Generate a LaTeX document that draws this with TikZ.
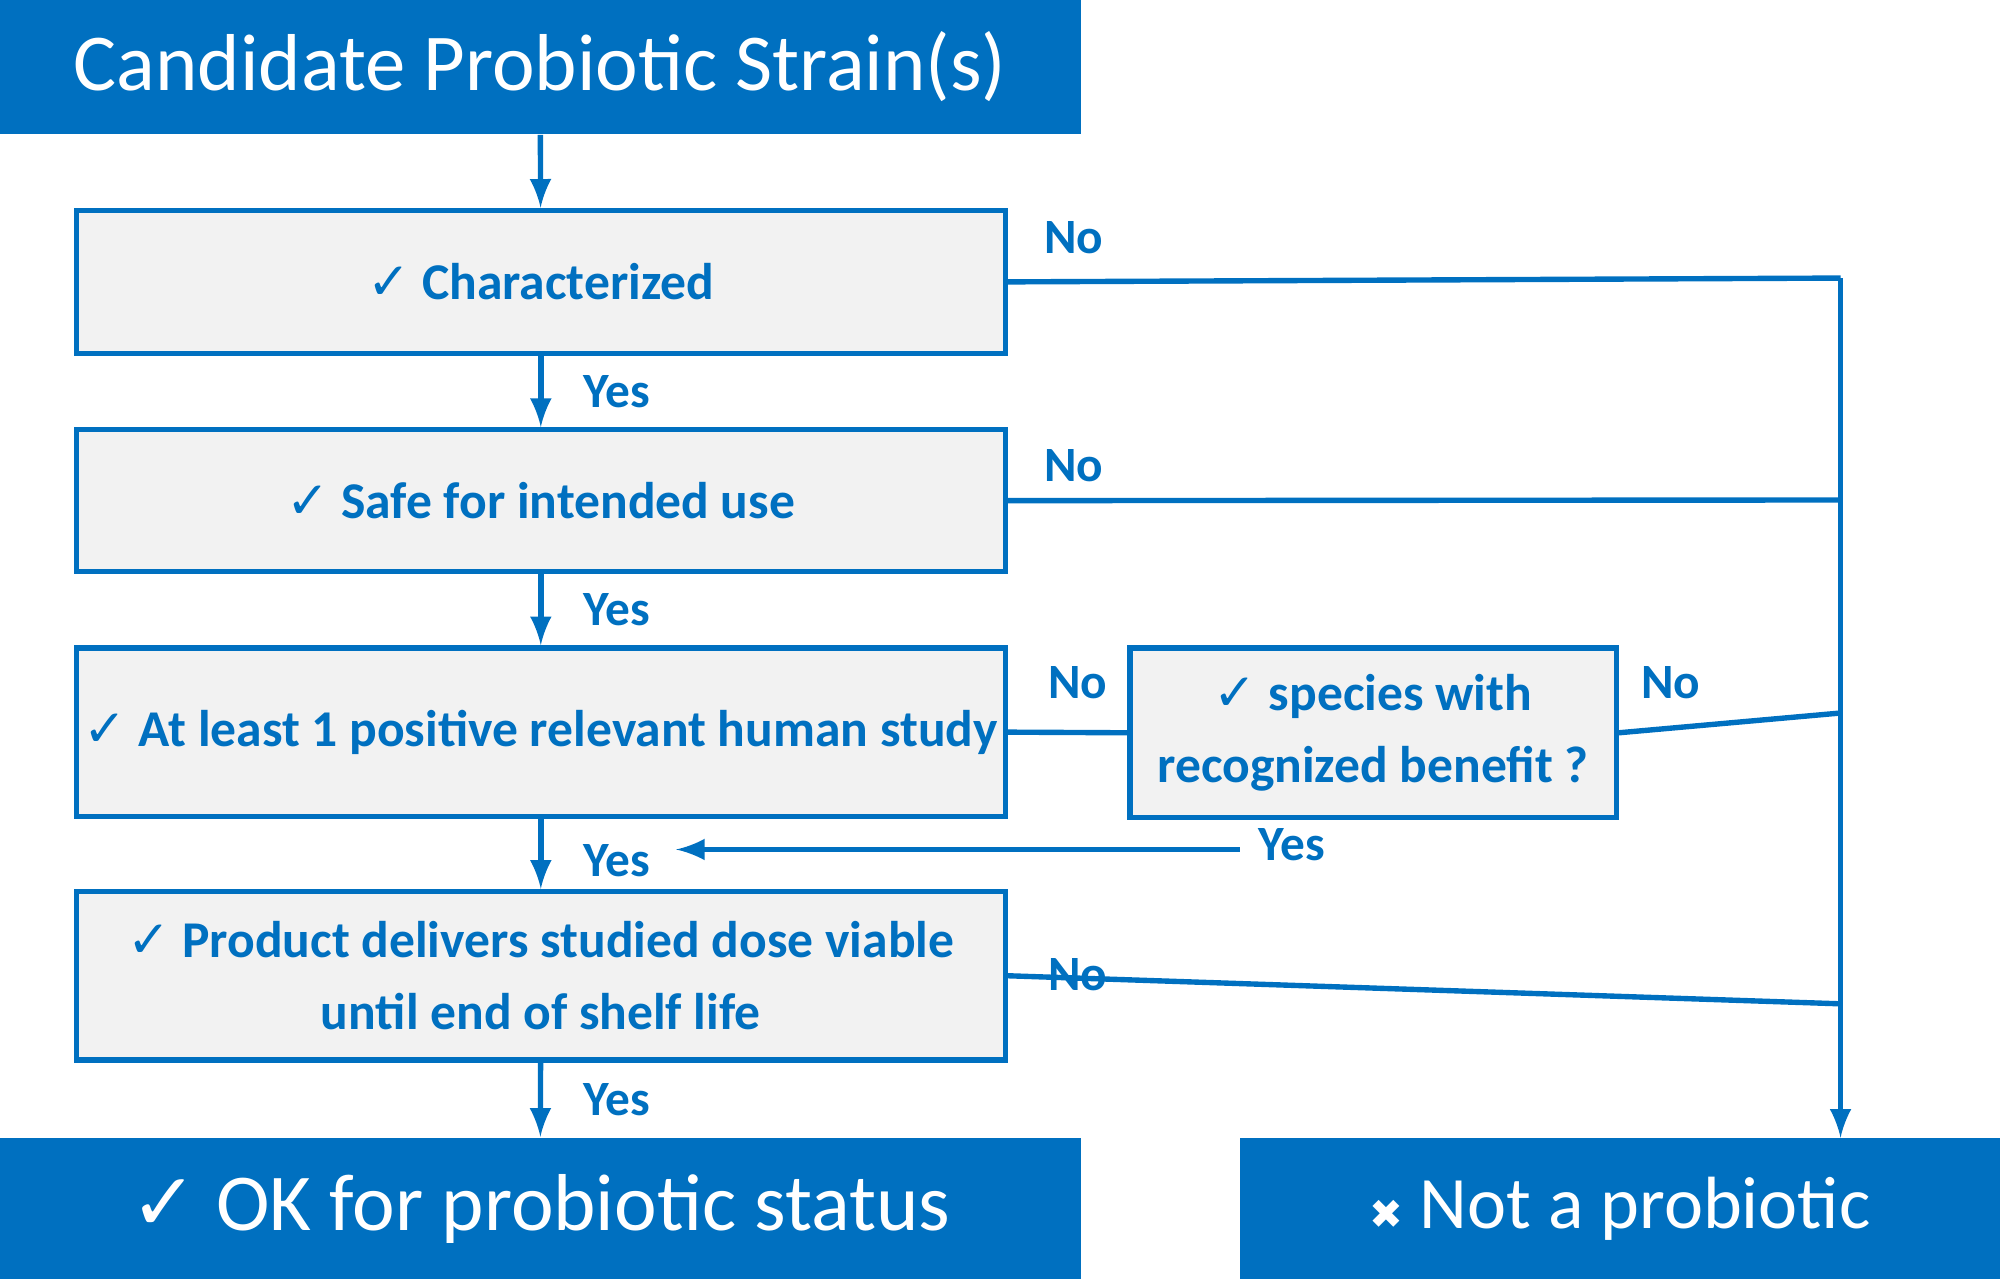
\documentclass[tikz,border=0pt]{standalone}
\usepackage{fontspec}
\setmainfont{Carlito}
\newfontfamily\symfont{DejaVu Sans}
\definecolor{msblue}{HTML}{0070C0}
\definecolor{boxgray}{HTML}{F2F2F2}
\newcommand{\chk}{{\symfont\char"2713}}
\newcommand{\crs}{{\symfont\char"2716}}
\tikzset{
  headbox/.style={fill=msblue,text=white,inner sep=0pt,font=\fontsize{18}{20}\selectfont},
  testbox/.style={draw=msblue,line width=1.2pt,fill=boxgray,text=msblue,inner sep=0pt,
    font=\bfseries\fontsize{11.5}{16}\selectfont,align=center},
  lbl/.style={text=msblue,font=\bfseries\fontsize{11}{13}\selectfont},
  flow/.style={draw=msblue,line width=1.2pt},
}
\begin{document}
\begin{tikzpicture}[x=0.01cm,y=-0.01cm,>=latex]
\useasboundingbox (0,0) rectangle (1568,1003);
%%
\node (cand) at (423.5,52.5) [headbox,minimum width=8.47cm,minimum height=1.05cm] {Candidate Probiotic Strain(s)};
\node (char) at (424,221) [testbox,minimum width=7.28cm,minimum height=1.12cm] {\chk{} Characterized};
\node (safe) at (424,392.5) [testbox,minimum width=7.28cm,minimum height=1.11cm] {\chk{} Safe for intended use};
\node (human) at (424,574) [testbox,minimum width=7.28cm,minimum height=1.32cm] {\chk{} At least 1 positive relevant human study};
\node (species) at (1076.5,574.5) [testbox,minimum width=3.81cm,minimum height=1.33cm] {\chk{} species with\\recognized benefit ?};
\node (dose) at (424,765) [testbox,minimum width=7.28cm,minimum height=1.32cm] {\chk{} Product delivers studied dose viable\\until end of shelf life};
\node (ok) at (423.5,947.5) [headbox,minimum width=8.47cm,minimum height=1.11cm] {\chk{} OK for probiotic status};
\node (notp) at (1270,947.5) [headbox,minimum width=5.96cm,minimum height=1.11cm,font=\fontsize{16.5}{20}\selectfont] {{\fontsize{9}{10}\selectfont\crs} Not a probiotic};
\coordinate (top) at (1443,218);
\coordinate (yesend) at (972,666);
\coordinate (yestip) at (530,666);
%
\draw [->,flow] (cand) -- (char);
\draw [->,flow] (char) -- node[lbl,right=0.2cm] {Yes} (safe);
\draw [->,flow] (safe) -- node[lbl,right=0.2cm] {Yes} (human);
\draw [->,flow] (human) -- node[lbl,right=0.2cm,yshift=-0.05cm] {Yes} (dose);
\draw [->,flow] (dose) -- node[lbl,right=0.2cm] {Yes} (ok);
\draw [flow] (char.east) -- (top);
\draw [->,flow] (top) -- (1443,892);
\draw [flow] (safe.east) -- (1443,392);
\draw [flow] (human.east) -- (species.west);
\draw [flow] (species.east) -- (1443,559);
\draw [flow] (dose.east) -- (1443,787);
\draw [->,flow] (yesend) -- (yestip);
\node [lbl] at (842,186) {No};
\node [lbl] at (842,365) {No};
\node [lbl] at (845,535) {No};
\node [lbl] at (1310,535) {No};
\node [lbl] at (845,764) {No};
\node [lbl] at (1013,662) {Yes};
%
\end{tikzpicture}
\end{document}
